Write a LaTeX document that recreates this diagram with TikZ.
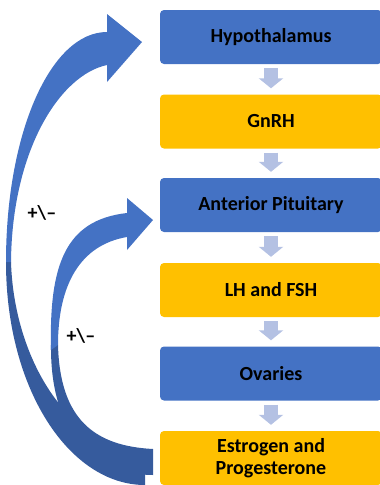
\documentclass[tikz,border=0pt]{standalone}
\usepackage{fontspec}
\setmainfont{Carlito}
\usetikzlibrary{arrows.meta,calc}
\definecolor{boxblue}{HTML}{4472C4}
\definecolor{boxgold}{HTML}{FFC000}
\definecolor{backblue}{HTML}{365B9D}
\definecolor{flowarrow}{HTML}{B4C1E3}
\tikzset{
  stagebox/.style={minimum width=222pt, minimum height=54pt, inner sep=0pt,
    rounded corners=4pt, font=\fontsize{20}{21.7}\selectfont\bfseries,
    text=black, align=center},
  bluebox/.style={stagebox, fill=boxblue},
  goldbox/.style={stagebox, fill=boxgold},
  flow/.style={draw=flowarrow, line width=14pt,
    -{Triangle[width=24pt,length=10pt]}, shorten <=4pt, shorten >=6pt},
  frontface/.style={fill=boxblue},
  backface/.style={fill=backblue},
  signlabel/.style={font=\fontsize{20}{22}\selectfont\bfseries, inner sep=0pt}
}
\begin{document}
\begin{tikzpicture}[x=1pt,y=-1pt]
\useasboundingbox (0,0) rectangle (380,485);
\clip (0,0) rectangle (380,485);

% boxes
\node[bluebox] (hyp) at (271,37)    {Hypothalamus};
\node[goldbox] (gnrh) at (271,121.5) {GnRH};
\node[bluebox] (ant) at (271,205)   {Anterior Pituitary};
\node[goldbox] (lh) at (271,290)    {LH and FSH};
\node[bluebox] (ov) at (271,373.5)  {Ovaries};
\node[goldbox] (est) at (271,458)   {Estrogen and\\Progesterone};

% flow arrows
\draw[flow] (hyp.south) -- (gnrh.north);
\draw[flow] (gnrh.south) -- (ant.north);
\draw[flow] (ant.south) -- (lh.north);
\draw[flow] (lh.south) -- (ov.north);
\draw[flow] (ov.south) -- (est.north);

% outer curved arrow (to Hypothalamus): back band
\fill[backface] (6,262) .. controls (6,390) and (70,485) .. (145,485)
  -- (145,450) .. controls (70,450) and (14,360) .. (11,262) -- cycle;
% inner curved arrow (to Anterior Pituitary): back band
\fill[backface] (51,345) .. controls (50,440) and (100,475) .. (153,475)
  -- (153,449) .. controls (95,446) and (60,420) .. (58,345) -- cycle;
% front faces
\fill[frontface] (6,262) .. controls (6,132) and (51,32) .. (107,32)
  -- (107,14) -- (142,42) -- (107,82) -- (107,65)
  .. controls (60,75) and (12,150) .. (11,262) -- cycle;
\fill[frontface] (51,350) .. controls (49,265) and (65,220) .. (127,213)
  -- (127,198) -- (153,220) -- (127,250) -- (127,237)
  .. controls (80,245) and (58,285) .. (58,345) -- cycle;

% labels
\node[signlabel] (s1) at (42,213) {+\textbackslash–};
\node[signlabel] (s2) at (81,336) {+\textbackslash–};
\end{tikzpicture}
\end{document}
